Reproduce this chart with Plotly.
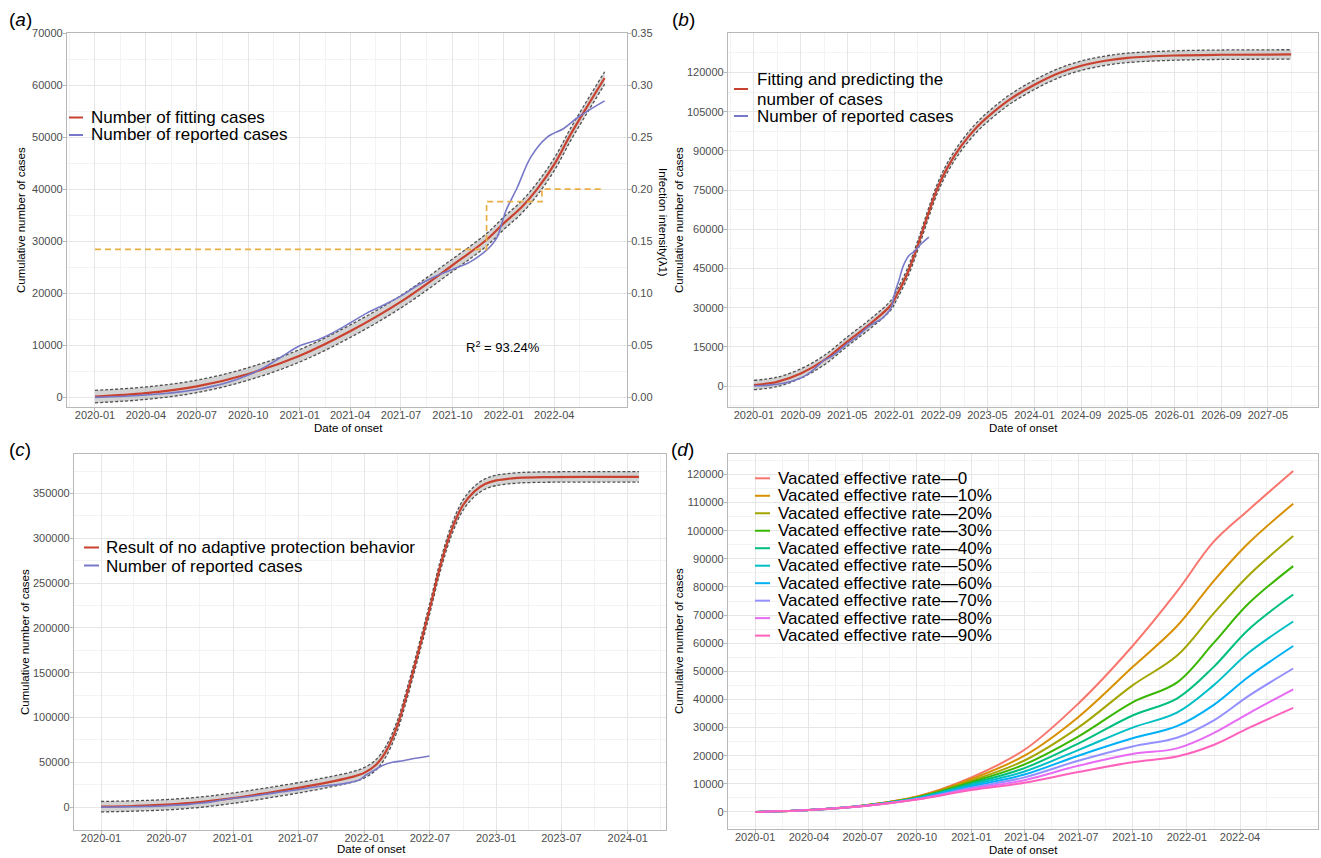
import plotly.graph_objects as go

W, H = 1321, 858
FONT = "Liberation Sans, Arial, Helvetica, sans-serif"

# ---------------- data ----------------
# reported cumulative cases (panels a, b, c)
rep_dates = ["2020-01-01", "2020-02-01", "2020-03-01", "2020-04-01", "2020-05-01", "2020-06-01",
             "2020-07-01", "2020-08-01", "2020-09-01", "2020-10-01", "2020-11-01", "2020-12-01",
             "2021-01-01", "2021-02-01", "2021-03-01", "2021-04-01", "2021-05-01", "2021-06-01",
             "2021-07-01", "2021-08-01", "2021-09-01", "2021-10-01", "2021-11-01", "2021-12-01",
             "2021-12-10", "2021-12-20", "2021-12-27", "2022-01-05", "2022-01-25", "2022-02-18",
             "2022-03-19", "2022-04-18", "2022-05-14", "2022-06-30"]
rep_cases = [0, 100, 250, 450, 700, 1050,
             1500, 2200, 3100, 4300, 5900, 7900,
             9900, 11000, 12400, 14300, 16200, 17800,
             19500, 21600, 23300, 24600, 26000, 28300,
             29300, 30800, 33000, 36000, 40400, 46200,
             50000, 51700, 53900, 57000]

# panel (a): fitted cases
a_dates = ["2020-01-01", "2020-04-01", "2020-07-01", "2020-10-01", "2021-01-01", "2021-04-01",
           "2021-07-01", "2021-10-01", "2021-12-01", "2022-01-01", "2022-02-01", "2022-03-01",
           "2022-04-01", "2022-05-01", "2022-06-01", "2022-06-30"]
a_fit = [150, 800, 2100, 4500, 8000, 12700,
         18400, 25400, 30300, 33500, 36500, 40000,
         44800, 50700, 56300, 61400]
A_HALF = 1200  # half-width of the confidence band

# panel (a): infection intensity (right axis)
lam_dates = ["2020-01-01", "2021-12-01", "2022-03-10", "2022-06-30"]
lam_vals = [0.142, 0.188, 0.200, 0.200]

# panel (b): fitted + predicted cases
b_dates = ["2020-01-01", "2020-05-01", "2020-09-01", "2021-01-01", "2021-05-01", "2021-09-01",
           "2021-12-15", "2022-01-15", "2022-03-10", "2022-05-01", "2022-06-22", "2022-08-13",
           "2022-10-04", "2022-12-13", "2023-03-09", "2023-06-04", "2023-09-01", "2024-01-01",
           "2024-05-08", "2024-09-01", "2025-01-04", "2025-05-01", "2026-01-01", "2026-09-01",
           "2027-08-30"]
b_fit = [400, 1600, 4800, 9900, 17000, 24000,
         31000, 35000, 43100, 53300, 64800, 75500,
         83500, 91600, 99200, 105000, 110000, 115300,
         119800, 122600, 124500, 125600, 126500, 126800,
         126900]
B_HALF = 1800

# panel (c): no adaptive protection behaviour
c_dates = ["2020-01-01", "2020-04-01", "2020-07-01", "2020-10-01", "2021-01-01", "2021-04-01",
           "2021-07-01", "2021-10-01", "2021-12-01", "2022-01-01", "2022-02-01", "2022-03-01",
           "2022-04-01", "2022-05-01", "2022-06-01", "2022-07-01", "2022-08-01", "2022-09-01",
           "2022-10-01", "2022-11-01", "2022-12-01", "2023-01-01", "2023-03-01", "2023-06-01",
           "2023-10-01", "2024-02-01"]
c_fit = [500, 1300, 2700, 5500, 10000, 15500,
         21500, 28500, 34000, 38500, 47000, 62000,
         90000, 130000, 176000, 222000, 272000, 311000,
         337000, 352000, 360500, 364500, 367300, 368300,
         368500, 368500]
C_HALF = 5800

# panel (d): vacated effective rate scenarios
d_dates = ["2020-01-01", "2020-04-01", "2020-07-01", "2020-10-01", "2021-01-01", "2021-04-01",
           "2021-07-01", "2021-10-01", "2021-12-15", "2022-02-15", "2022-04-15", "2022-06-30"]
d_r0 = [0, 700, 2300, 5500, 12300, 22100, 38500, 59000, 78300, 96000, 107300, 121200]
d_r10 = [0, 700, 2250, 5400, 11700, 20000, 33700, 51500, 66000, 82000, 95500, 109600]
d_r20 = [0, 700, 2250, 5300, 11100, 18300, 30000, 45000, 55500, 70500, 84000, 98100]
d_r30 = [0, 700, 2200, 5150, 10600, 16900, 26800, 39000, 46000, 60000, 74000, 87400]
d_r40 = [0, 700, 2200, 5000, 10100, 15600, 24300, 34300, 40300, 51500, 64800, 77300]
d_r50 = [0, 700, 2150, 4900, 9600, 14400, 22000, 30000, 35300, 45000, 56500, 67700]
d_r60 = [0, 700, 2150, 4750, 9100, 13300, 20000, 26200, 30500, 38000, 48000, 59000]
d_r70 = [0, 700, 2100, 4600, 8600, 12300, 18200, 23300, 26400, 32500, 41200, 51000]
d_r80 = [0, 700, 2100, 4500, 8200, 11300, 16400, 20600, 22600, 28000, 35000, 43600]
d_r90 = [0, 700, 2050, 4400, 7800, 10400, 14200, 17700, 19700, 23800, 29800, 37000]
d_series = [d_r0, d_r10, d_r20, d_r30, d_r40, d_r50, d_r60, d_r70, d_r80, d_r90]
d_labels = ["Vacated effective rate\u20140", "Vacated effective rate\u201410%",
            "Vacated effective rate\u201420%", "Vacated effective rate\u201430%",
            "Vacated effective rate\u201440%", "Vacated effective rate\u201450%",
            "Vacated effective rate\u201460%", "Vacated effective rate\u201470%",
            "Vacated effective rate\u201480%", "Vacated effective rate\u201490%"]
d_colors = ["#F8766D", "#D89000", "#A3A500", "#39B600", "#00BF7D",
            "#00BFC4", "#00B0F6", "#9590FF", "#E76BF3", "#FF62BC"]

# tick labels
q_ticks = ["2020-01-01", "2020-04-01", "2020-07-01", "2020-10-01", "2021-01-01",
           "2021-04-01", "2021-07-01", "2021-10-01", "2022-01-01", "2022-04-01"]
b_ticks = ["2020-01-01", "2020-09-01", "2021-05-01", "2022-01-01", "2022-09-01", "2023-05-01",
           "2024-01-01", "2024-09-01", "2025-05-01", "2026-01-01", "2026-09-01", "2027-05-01"]
c_ticks = ["2020-01-01", "2020-07-01", "2021-01-01", "2021-07-01", "2022-01-01",
           "2022-07-01", "2023-01-01", "2023-07-01", "2024-01-01"]

# ---------------- style ----------------
RED = "#C9412F"
BLUE = "#7878C8"
ORANGE = "#E9AE45"
BORDER = "#B8B8B8"
GRID = "#E6E6E6"
MINOR = "#F3F3F3"
TICKTXT = "#4D4D4D"
DASHC = "#505050"
BANDFILL = "rgba(150,150,150,0.42)"


def fx(p):
    return p / W


def fy(p):
    return 1 - p / H


# panel boxes in pixels: left, top, right, bottom
PA = (67, 33.3, 627, 406.7)
PB = (728, 33.3, 1318, 406.7)
PC = (74, 454, 666, 830)
PD = (728, 454, 1318, 829)


def dom(p):
    return dict(x=[fx(p[0]), fx(p[2])], y=[fy(p[3]), fy(p[1])])


def axis_style(**kw):
    d = dict(showline=True, linecolor=BORDER, linewidth=1.2, mirror=True,
             showgrid=True, gridcolor=GRID, gridwidth=1, zeroline=False,
             ticks="outside", ticklen=3, tickcolor=BORDER, tickwidth=1,
             tickfont=dict(size=11, color=TICKTXT, family=FONT),
             automargin=False, fixedrange=True)
    d.update(kw)
    return d


def xdate(domain, anchor, rng, ticks, minor_dtick, minor0):
    return axis_style(domain=domain, anchor=anchor, type="date", range=rng,
                      tickmode="array", tickvals=ticks, ticktext=[t[:7] for t in ticks],
                      ticklabelstandoff=-5,
                      minor=dict(showgrid=True, gridcolor=MINOR, dtick=minor_dtick,
                                 tick0=minor0, ticks=""))


fig = go.Figure()


def add_band(xa, ya, dates, center, half):
    lo = [v - half for v in center]
    hi = [v + half for v in center]
    fig.add_trace(go.Scatter(x=dates, y=lo, mode="lines", xaxis=xa, yaxis=ya,
                             line=dict(color=DASHC, width=1.3, dash="3px,2px", shape="spline"),
                             showlegend=False, hoverinfo="skip"))
    fig.add_trace(go.Scatter(x=dates, y=hi, mode="lines", xaxis=xa, yaxis=ya,
                             fill="tonexty", fillcolor=BANDFILL,
                             line=dict(color=DASHC, width=1.3, dash="3px,2px", shape="spline"),
                             showlegend=False, hoverinfo="skip"))


# ---- panel a ----
add_band("x", "y", a_dates, a_fit, A_HALF)
fig.add_trace(go.Scatter(x=a_dates, y=a_fit, mode="lines", xaxis="x", yaxis="y",
                         name="Number of fitting cases",
                         line=dict(color=RED, width=2.2, shape="spline"), showlegend=False))
fig.add_trace(go.Scatter(x=rep_dates, y=rep_cases, mode="lines", xaxis="x", yaxis="y",
                         name="Number of reported cases",
                         line=dict(color=BLUE, width=1.6, shape="spline"), showlegend=False))
fig.add_trace(go.Scatter(x=lam_dates, y=lam_vals, mode="lines", xaxis="x", yaxis="y5",
                         name="Infection intensity",
                         line=dict(color=ORANGE, width=1.7, dash="6px,4px", shape="hv"),
                         showlegend=False))

# ---- panel b ----
add_band("x2", "y2", b_dates, b_fit, B_HALF)
fig.add_trace(go.Scatter(x=b_dates, y=b_fit, mode="lines", xaxis="x2", yaxis="y2",
                         name="Fitting and predicting the number of cases",
                         line=dict(color=RED, width=2.2, shape="spline"), showlegend=False))
fig.add_trace(go.Scatter(x=rep_dates, y=rep_cases, mode="lines", xaxis="x2", yaxis="y2",
                         name="Number of reported cases",
                         line=dict(color=BLUE, width=1.6, shape="spline"), showlegend=False))

# ---- panel c ----
add_band("x3", "y3", c_dates, c_fit, C_HALF)
fig.add_trace(go.Scatter(x=c_dates, y=c_fit, mode="lines", xaxis="x3", yaxis="y3",
                         name="Result of no adaptive protection behavior",
                         line=dict(color=RED, width=2.2, shape="spline"), showlegend=False))
fig.add_trace(go.Scatter(x=rep_dates, y=rep_cases, mode="lines", xaxis="x3", yaxis="y3",
                         name="Number of reported cases",
                         line=dict(color=BLUE, width=1.6, shape="spline"), showlegend=False))

# ---- panel d ----
for vals, lab, col in zip(d_series, d_labels, d_colors):
    fig.add_trace(go.Scatter(x=d_dates, y=vals, mode="lines", xaxis="x4", yaxis="y4",
                             name=lab, line=dict(color=col, width=2, shape="spline"),
                             showlegend=False))

# ---------------- axes ----------------
da, db, dc, dd = dom(PA), dom(PB), dom(PC), dom(PD)

layout = dict(
    width=W, height=H, margin=dict(l=0, r=0, t=0, b=0),
    paper_bgcolor="white", plot_bgcolor="white",
    font=dict(family=FONT, color="#000000"),
    showlegend=False,
    xaxis=xdate(da["x"], "y", ["2019-11-12", "2022-08-09"], q_ticks, "M3", "2019-11-16"),
    yaxis=axis_style(domain=da["y"], anchor="x", range=[-1800, 70000],
                     tickvals=[0, 10000, 20000, 30000, 40000, 50000, 60000, 70000], tickformat="d",
                     ticklabelstandoff=-2,
                     minor=dict(showgrid=True, gridcolor=MINOR, dtick=5000, tick0=0, ticks="")),
    yaxis5=axis_style(overlaying="y", anchor="x", side="right", range=[-0.0093, 0.35],
                      tickvals=[0, 0.05, 0.10, 0.15, 0.20, 0.25, 0.30, 0.35], tickformat=".2f",
                      ticklabelstandoff=-2,
                      showgrid=False, showline=False, mirror=False),
    xaxis2=xdate(db["x"], "y2", ["2019-08-19", "2028-01-17"], b_ticks, "M8", "2019-09-01"),
    yaxis2=axis_style(domain=db["y"], anchor="x2", range=[-7900, 135000],
                      tickvals=[0, 15000, 30000, 45000, 60000, 75000, 90000, 105000, 120000],
                      tickformat="d", ticklabelstandoff=-2,
                      minor=dict(showgrid=True, gridcolor=MINOR, dtick=7500, tick0=0, ticks="")),
    xaxis3=xdate(dc["x"], "y3", ["2019-10-18", "2024-04-16"], c_ticks, "M6", "2019-10-01"),
    yaxis3=axis_style(domain=dc["y"], anchor="x3", range=[-25500, 394000],
                      tickvals=[0, 50000, 100000, 150000, 200000, 250000, 300000, 350000],
                      tickformat="d", ticklabelstandoff=-2,
                      minor=dict(showgrid=True, gridcolor=MINOR, dtick=25000, tick0=0, ticks="")),
    xaxis4=xdate(dd["x"], "y4", ["2019-11-16", "2022-08-11"], q_ticks, "M3", "2019-11-16"),
    yaxis4=axis_style(domain=dd["y"], anchor="x4", range=[-6060, 127260],
                      tickvals=list(range(0, 120001, 10000)), tickformat="d",
                      ticklabelstandoff=-2,
                      minor=dict(showgrid=True, gridcolor=MINOR, dtick=5000, tick0=0, ticks="")),
)
fig.update_layout(**layout)

# ---------------- annotations & legend keys ----------------
ann = []
shapes = []


def text(x, y, s, size=11.5, angle=0, xanchor="center", color="#000000"):
    ann.append(dict(x=fx(x), y=fy(y), xref="paper", yref="paper", text=s, showarrow=False,
                    textangle=angle, xanchor=xanchor, yanchor="middle",
                    font=dict(size=size, color=color, family=FONT)))


def key(x0, x1, y, color):
    shapes.append(dict(type="line", xref="paper", yref="paper", x0=fx(x0), x1=fx(x1),
                       y0=fy(y), y1=fy(y), line=dict(color=color, width=2)))


# panel labels
text(20, 20, "(<i>a</i>)", size=19)
text(683, 20, "(<i>b</i>)", size=19)
text(20, 449, "(<i>c</i>)", size=19)
text(682, 449, "(<i>d</i>)", size=19)

# axis titles
text(21, 220, "Cumulative number of cases", angle=-90)
text(663, 222, "Infection intensity(\u03bb1)", angle=90)
text(679, 220, "Cumulative number of cases", angle=-90)
text(25, 642, "Cumulative number of cases", angle=-90)
text(679, 641, "Cumulative number of cases", angle=-90)
text(348, 428, "Date of onset")
text(1023, 428, "Date of onset")
text(371, 849, "Date of onset")
text(1023, 849.5, "Date of onset")

# R squared
text(503, 347, "R<sup>2</sup> = 93.24%", size=13)

# legend (a)
key(69, 83, 117.5, RED)
key(69, 83, 135, BLUE)
text(89, 117.5, "Number of fitting cases", size=17, xanchor="left")
text(89, 135, "Number of reported cases", size=17, xanchor="left")

# legend (b)
key(734, 748, 89, RED)
key(734, 748, 116, BLUE)
text(755, 80, "Fitting and predicting the", size=17, xanchor="left")
text(755, 99, "number of cases", size=17, xanchor="left")
text(755, 116.5, "Number of reported cases", size=17, xanchor="left")

# legend (c)
key(84, 99, 547.5, RED)
key(84, 99, 565.5, BLUE)
text(104, 547.5, "Result of no adaptive protection behavior", size=17, xanchor="left")
text(104, 566, "Number of reported cases", size=17, xanchor="left")

# legend (d)
for i, (lab, col) in enumerate(zip(d_labels, d_colors)):
    yy = 478.3 + i * 17.48
    key(755, 770, yy, col)
    text(776, yy, lab, size=17, xanchor="left")

fig.update_layout(annotations=ann, shapes=shapes)

fig.write_html("out.html", config={"displayModeBar": False},
               post_script="document.body.style.margin='0px';document.body.style.padding='0px';")
